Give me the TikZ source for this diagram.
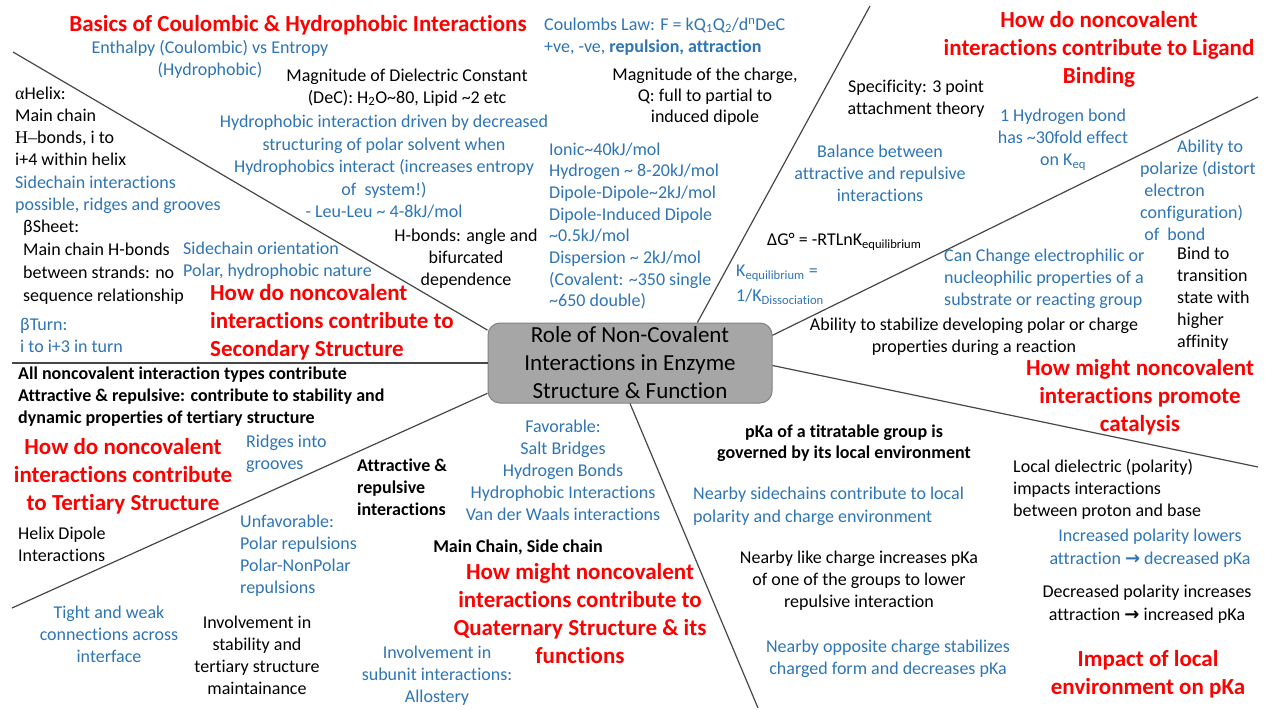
\documentclass[tikz,border=0pt]{standalone}
\usepackage{fontspec}
\setmainfont{Carlito}[RawFeature={-liga;-clig;-dlig;-calt;-rlig}]
\newfontfamily\serif{Liberation Serif}
\newfontfamily\sym{DejaVu Sans}
\definecolor{myblue}{RGB}{46,117,182}
\definecolor{myred}{RGB}{255,0,0}
\definecolor{boxfill}{RGB}{166,166,166}
\definecolor{boxline}{RGB}{130,130,130}
\tikzset{
  kt/.style={inner sep=0pt, align=center, font=\fontsize{18}{22}\selectfont, text=black},
  bt/.style={kt, text=myblue},
  bk/.style={kt, font=\bfseries\fontsize{18}{22}\selectfont},
  rt/.style={inner sep=0pt, align=center, text=myred, font=\bfseries\fontsize{23}{28}\selectfont},
  lft/.style={align=left, anchor=west},
  hub/.style={draw=boxline, fill=boxfill, rounded corners=12pt, line width=1pt,
    minimum width=284pt, minimum height=80pt, inner sep=0pt, align=center,
    font=\fontsize{23}{28}\selectfont},
  conn/.style={draw=black!72, line width=1.2pt}
}
\begin{document}
\begin{tikzpicture}[x=1pt,y=-1pt]
\useasboundingbox (0,0) rectangle (1265,709);
\fill[white] (0,0) rectangle (1265,709);

% free ends of connectors
\coordinate (e1) at (13,52);
\coordinate (e2) at (12,363);
\coordinate (e3) at (12,608);
\coordinate (e4) at (758,708);
\coordinate (e5) at (1258,467);
\coordinate (e6) at (1258,97);
\coordinate (e7) at (870,6);

\node[hub] (c) at (630,363) {Role of Non-Covalent\\Interactions in Enzyme\\Structure \& Function};

\draw[conn] (c.167.7) -- (e1);
\draw[conn] (c.180) -- (e2);
\draw[conn] (c.192.7) -- (e3);
\draw[conn] (c.270) -- (e4);
\draw[conn] (c.359.2) -- (e5);
\draw[conn] (c.11.9) -- (e6);
\draw[conn] (c.31.6) -- (e7);

% red titles
\node[rt] (t1) at (298,25) {Basics of Coulombic \& Hydrophobic Interactions};
\node[rt] (t2) at (1099,49) {How do noncovalent\\interactions contribute to Ligand\\Binding};
\node[rt, lft] (t3) at (210,322) {How do noncovalent\\interactions contribute to\\Secondary Structure};
\node[rt] (t4) at (123,476) {How do noncovalent\\interactions contribute\\to Tertiary Structure};
\node[rt] (t5) at (580,614) {How might noncovalent\\interactions contribute to\\Quaternary Structure \& its\\functions};
\node[rt] (t6) at (1140,397) {How might noncovalent\\interactions promote\\catalysis};
\node[rt] (t7) at (1148,674) {Impact of local\\environment on pKa};

% basics region
\node[bt] (n1) at (210,59.5) {Enthalpy (Coulombic) vs Entropy\\(Hydrophobic)};
\node[kt] (n2) at (407,87.5) {Magnitude of Dielectric Constant\\(DeC): H\textsubscript{2}O\textasciitilde80, Lipid \textasciitilde2 etc};
\node[bt, font=\fontsize{18}{22.5}\selectfont] (n3) at (384,167) {Hydrophobic interaction driven by decreased\\structuring of polar solvent when\\Hydrophobics interact (increases entropy\\of\ \ system!)\\- Leu-Leu \textasciitilde{} 4-8kJ/mol};
\node[bt, lft] (n4) at (544,36.5) {Coulombs Law: F = kQ\textsubscript{1}Q\textsubscript{2}/d\textsuperscript{n}DeC\\+ve, -ve, \textbf{repulsion, attraction}};
\node[kt, font=\fontsize{18}{21}\selectfont] (n5) at (705,97) {Magnitude of the charge,\\Q: full to partial to\\induced dipole};
\node[bt, lft, font=\fontsize{18}{21.7}\selectfont] (n6) at (549,226) {Ionic\textasciitilde40kJ/mol\\Hydrogen \textasciitilde{} 8-20kJ/mol\\Dipole-Dipole\textasciitilde2kJ/mol\\Dipole-Induced Dipole\\\textasciitilde0.5kJ/mol\\Dispersion \textasciitilde{} 2kJ/mol\\(Covalent: \textasciitilde350 single\\\textasciitilde650 double)};
\node[kt] (n7) at (466,259) {H-bonds: angle and\\bifurcated\\dependence};

% secondary structure region
\node[kt, lft] (s1) at (15,126) {{\serif α}Helix:\\Main chain\\{\serif H–}bonds, i to\\i+4 within helix};
\node[bt, lft] (s2) at (15,195) {Sidechain interactions\\possible, ridges and grooves};
\node[kt, lft, font=\fontsize{18}{23}\selectfont] (s3) at (23,262.5) {βSheet:\\Main chain H-bonds\\between strands: no\\sequence relationship};
\node[bt, lft] (s4) at (183,261) {Sidechain orientation\\Polar, hydrophobic nature};
\node[bt, lft] (s5) at (20,335) {βTurn:\\i to i+3 in turn};

% tertiary structure region
\node[bk, lft] (r1) at (18,397) {All noncovalent interaction types contribute\\Attractive \& repulsive: contribute to stability and\\dynamic properties of tertiary structure};
\node[bt, lft] (r2) at (246,453.5) {Ridges into\\grooves};
\node[kt, lft] (r3) at (18,544.5) {Helix Dipole\\Interactions};

% quaternary structure region
\node[bk, lft] (q1) at (357,487.5) {Attractive \&\\repulsive\\interactions};
\node[bt, lft] (q2) at (240,556) {Unfavorable:\\Polar repulsions\\Polar-NonPolar\\repulsions};
\node[bt] (q3) at (109,634) {Tight and weak\\connections across\\interface};
\node[kt] (q4) at (257,655) {Involvement in\\stability and\\tertiary structure\\maintainance};
\node[bt] (q5) at (563,470) {Favorable:\\Salt Bridges\\Hydrogen Bonds\\Hydrophobic Interactions\\Van der Waals interactions};
\node[bk] (q6) at (518,547) {Main Chain, Side chain};
\node[bt] (q7) at (437,675.5) {Involvement in\\subunit interactions:\\Allostery};

% ligand binding region
\node[kt] (l1) at (916,99) {Specificity: 3 point\\attachment theory};
\node[bt] (l2) at (1063,140) {1 Hydrogen bond\\has \textasciitilde30fold effect\\on K\textsubscript{eq}};
\node[bt] (l3) at (880,173) {Balance between\\attractive and repulsive\\interactions};
\node[kt, anchor=west] (l4) at (767,242) {ΔG° = -RTLnK\textsubscript{equilibrium}};
\node[bt, lft, font=\fontsize{18}{25}\selectfont] (l5) at (736,284.5) {K\textsubscript{equilibrium} =\\1/K\textsubscript{Dissociation}};

% catalysis region
\node[bt, lft] (k1) at (1140,190) {\hspace*{37pt}Ability to\\polarize (distort\\\ electron\\configuration)\\\ of\ \ bond};
\node[bt, lft] (k2) at (944,279) {Can Change electrophilic or\\nucleophilic properties of a\\substrate or reacting group};
\node[kt, lft] (k3) at (1177,298.5) {Bind to\\transition\\state with\\higher\\affinity};
\node[kt] (k4) at (974,337) {Ability to stabilize developing polar or charge\\properties during a reaction};

% pKa region
\node[bk, font=\bfseries\fontsize{18}{21}\selectfont] (p1) at (844,443.5) {pKa of a titratable group is\\governed by its local environment};
\node[bt, lft, font=\fontsize{18}{23}\selectfont] (p2) at (693,506.5) {Nearby sidechains contribute to local\\polarity and charge environment};
\node[kt] (p3) at (859,580.5) {Nearby like charge increases pKa\\of one of the groups to lower\\repulsive interaction};
\node[bt] (p4) at (888,659) {Nearby opposite charge stabilizes\\charged form and decreases pKa};
\node[kt, lft] (p5) at (1013,489) {Local dielectric (polarity)\\impacts interactions\\between proton and base};
\node[bt, font=\fontsize{18}{23}\selectfont] (p6) at (1150,548.5) {Increased polarity lowers\\attraction {\sym\bfseries →} decreased pKa};
\node[kt, font=\fontsize{18}{23}\selectfont] (p7) at (1147,604.5) {Decreased polarity increases\\attraction {\sym\bfseries →} increased pKa};
\end{tikzpicture}
\end{document}
